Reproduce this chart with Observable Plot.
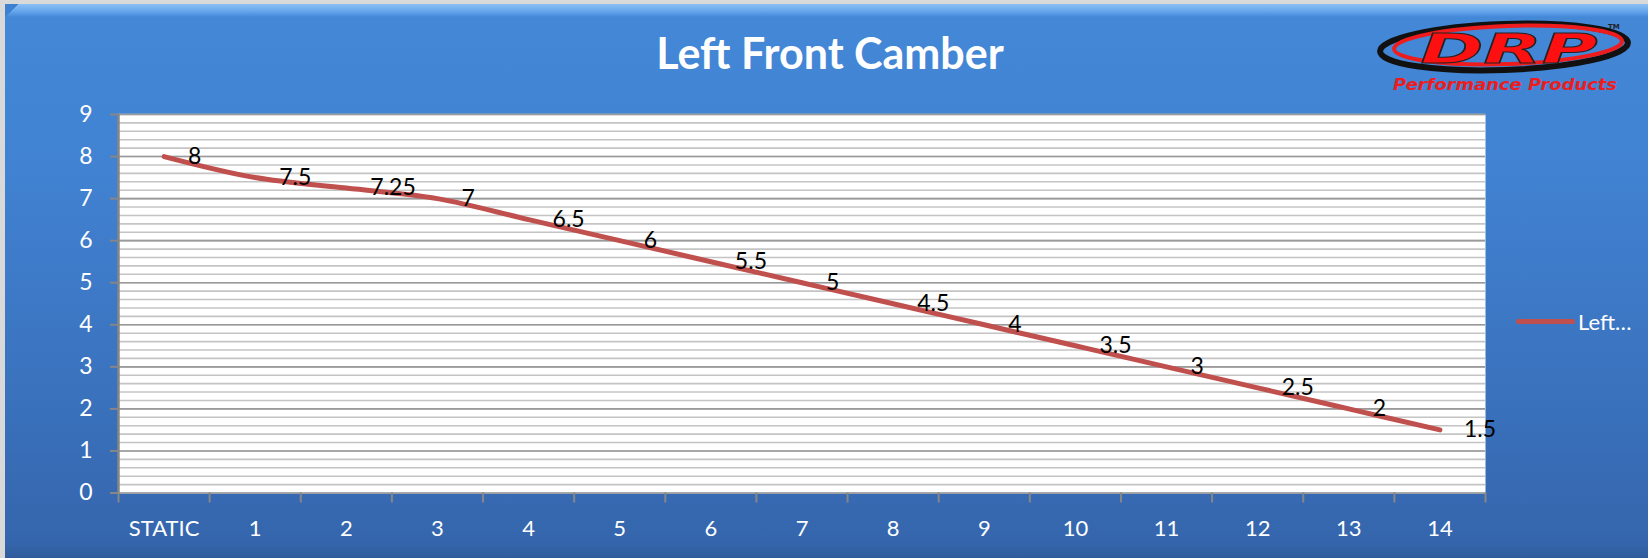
<!DOCTYPE html>
<html><head><meta charset="utf-8">
<script src="https://cdn.jsdelivr.net/npm/d3@7"></script>
<script src="https://cdn.jsdelivr.net/npm/@observablehq/plot@0.6"></script>
<style>
body{margin:0;background:#fff;}
#wrap{position:relative;width:1648px;height:558px;overflow:hidden;background:#d9d9d9;font-family:Lato,"Open Sans",sans-serif;}
#panel{position:absolute;left:5px;top:4px;width:1643px;height:554px;background:linear-gradient(to bottom,#4488d8 0%,#4182d2 30%,#3b74c0 65%,#3566ad 97%,#2f5c9c 100%);}
#bevel{position:absolute;left:5px;top:4px;width:1643px;height:13px;background:linear-gradient(to bottom,#8cc0f4,#66a6ec 55%,#4488d8);}
#bevel:before{content:"";position:absolute;left:0;top:0;width:14px;height:13px;background:linear-gradient(135deg,#3f80d0 50%,transparent 50%);}
#title{position:absolute;left:6px;width:1648px;top:31px;line-height:44px;text-align:center;color:#fff;font-weight:700;font-size:43px;white-space:nowrap;}
#chart{position:absolute;left:0;top:90px;}
#legend{position:absolute;left:1516px;top:308px;height:26px;display:flex;align-items:center;color:#fff;font-size:22px;white-space:nowrap;}
#legend .sw{width:59px;height:5px;border-radius:3px;background:#c0504d;margin-right:3px;}
#logo{position:absolute;left:1370px;top:12px;}
</style>
</head><body>
<div id="wrap">
  <div id="panel"></div>
  <div id="bevel"></div>
  <div id="title"></div>
  <svg id="logo" width="278" height="90" viewBox="0 0 278 90">
    <ellipse cx="134" cy="35" rx="124" ry="23" fill="none" stroke="#111" stroke-width="6" transform="rotate(-2 134 35)"/>
    <ellipse cx="138" cy="33" rx="114" ry="19" fill="none" stroke="#ee1c1c" stroke-width="4" transform="rotate(-2 138 33)"/>
    <text id="logoMain" x="139" y="51" text-anchor="middle" font-family="'DejaVu Sans'" font-weight="bold" font-style="italic" font-size="41" fill="#ff1010" stroke="#222" stroke-width="1" textLength="177" lengthAdjust="spacingAndGlyphs"></text>
    <text id="logoTm" x="238" y="17" font-family="'DejaVu Sans'" font-weight="bold" font-size="7" fill="#222"></text>
    <text id="logoSub" x="135" y="78" text-anchor="middle" font-family="'DejaVu Sans'" font-weight="bold" font-style="italic" font-size="15" fill="#ee1c1c" textLength="224" lengthAdjust="spacingAndGlyphs"></text>
  </svg>
  <div id="chart"></div>
  <div id="legend"><span class="sw"></span><span id="legendText"></span></div>
</div>
<script>
const titleText = "Left Front Camber";
const seriesName = "Left…";
const categories = ["STATIC","1","2","3","4","5","6","7","8","9","10","11","12","13","14"];
const camber = [8, 7.5, 7.25, 7, 6.5, 6, 5.5, 5, 4.5, 4, 3.5, 3, 2.5, 2, 1.5];
const yTicks = [0,1,2,3,4,5,6,7,8,9];
const logoMain = "DRP";
const logoSub = "Performance Products";

document.getElementById("title").textContent = titleText;
document.getElementById("legendText").textContent = seriesName;
document.getElementById("logoMain").textContent = logoMain;
document.getElementById("logoTm").textContent = "TM";
document.getElementById("logoSub").textContent = logoSub;

const data = categories.map((c, i) => ({i, c, v: camber[i]}));
const idx = categories.map((c, i) => i);
const bounds = categories.map((c, i) => i - 0.5).concat([categories.length - 0.5]);
const minor = d3.range(0, 9 * 5 + 1).map(k => k / 5);

const chart = Plot.plot({
  width: 1648,
  height: 468,
  marginTop: 24,
  marginBottom: 65.5,
  marginLeft: 118,
  marginRight: 163,
  style: {background: "transparent", fontFamily: "Lato, 'Open Sans', sans-serif", overflow: "visible"},
  x: {type: "linear", domain: [-0.5, categories.length - 0.5]},
  y: {domain: [0, 9]},
  marks: [
    Plot.frame({fill: "white", stroke: null}),
    Plot.ruleY(minor, {stroke: "#c4c4c4", strokeWidth: 1.6}),
    Plot.ruleY(yTicks, {stroke: "#9a9a9a", strokeWidth: 1.6}),
    Plot.ruleX([-0.5], {stroke: "#868686", strokeWidth: 2.5}),
    Plot.axisY({ticks: yTicks, tickSize: 8, tickPadding: 18, stroke: "#868686", strokeWidth: 2, fill: "white", fontSize: 23, label: null}),
    Plot.axisX({ticks: bounds, tickSize: 10, tickFormat: () => "", stroke: "#868686", strokeWidth: 2, label: null}),
    Plot.axisX({ticks: idx, tickSize: 0, tickPadding: 27, tickFormat: i => categories[i], fill: "white", fontSize: 22, label: null}),
    Plot.line(data, {x: "i", y: "v", stroke: "#c0504d", strokeWidth: 5, curve: "catmull-rom", strokeLinecap: "round"}),
    Plot.text(data, {x: "i", y: "v", text: d => String(d.v), textAnchor: "start", dx: 24, fill: "black", fontSize: 23})
  ]
});
document.getElementById("chart").appendChild(chart);
</script>
</body></html>
